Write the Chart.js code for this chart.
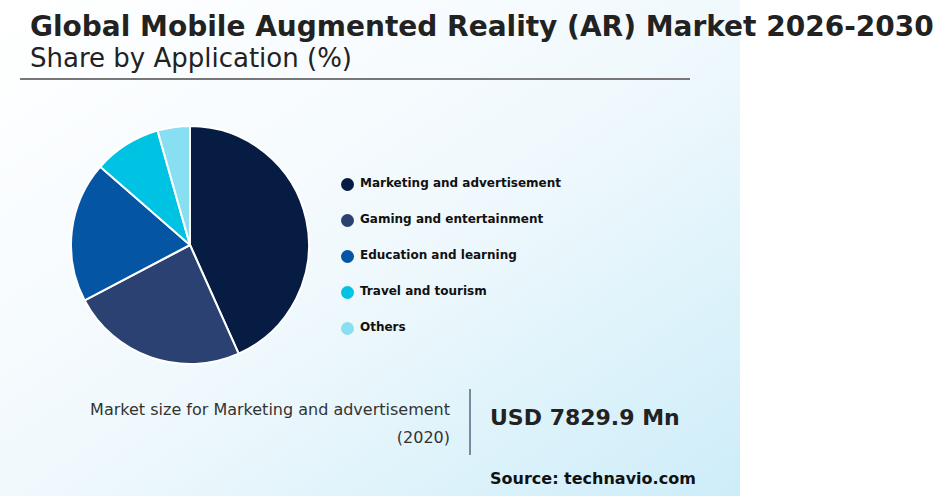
<!DOCTYPE html>
<html>
<head>
<meta charset="utf-8">
<script src="https://cdn.jsdelivr.net/npm/chart.js@4"></script>
<style>
  html, body { margin: 0; padding: 0; background: #fff; }
  body { width: 934px; height: 498px; position: relative; overflow: hidden; font-family: "DejaVu Sans", sans-serif; }
  #panel { position: absolute; left: 0; top: 0; width: 740px; height: 496px;
    background: linear-gradient(to bottom right, #ffffff 0%, #f6fbfe 35%, #eef8fc 55%, #cdedf9 100%); }
  .abs { position: absolute; white-space: nowrap; }
  #title { left: 30px; top: 13px; font-size: 28px; line-height: 28px; font-weight: bold; color: #222; }
  #subtitle { left: 30px; top: 45px; font-size: 26px; line-height: 26px; color: #222; }
  #rule { left: 20px; top: 78px; width: 670px; height: 2px; background: #777; }
  #pie-box { left: 70px; top: 125px; width: 240px; height: 240px; }
  #legend { left: 341px; top: 176px; }
  .item { height: 36px; display: flex; align-items: flex-start; font-size: 12px; font-weight: bold; color: #111; }
  .dot { width: 13px; height: 13px; border-radius: 50%; margin-right: 6px; margin-top: 2px; }
  #msize { right: 484px; top: 396px; font-size: 16px; color: #333; text-align: right; line-height: 28px; }
  #vline { left: 469px; top: 389px; width: 2px; height: 66px; background: #7a8a9c; }
  #usd { left: 490px; top: 405px; font-size: 22px; font-weight: bold; color: #222; }
  #source { left: 490px; top: 469px; font-size: 16px; font-weight: bold; color: #111; }
</style>
</head>
<body>
<div id="panel"></div>
<div class="abs" id="title">Global Mobile Augmented Reality (AR) Market 2026-2030</div>
<div class="abs" id="subtitle">Share by Application (%)</div>
<div class="abs" id="rule"></div>
<div class="abs" id="pie-box"><canvas id="pie"></canvas></div>
<div class="abs" id="legend"></div>
<div class="abs" id="msize">Market size for Marketing and advertisement<br>(2020)</div>
<div class="abs" id="vline"></div>
<div class="abs" id="usd">USD 7829.9 Mn</div>
<div class="abs" id="source">Source: technavio.com</div>
<script>
var categories = ['Marketing and advertisement', 'Gaming and entertainment', 'Education and learning', 'Travel and tourism', 'Others'];
var shares = [43.3, 24.0, 19.1, 9.2, 4.4];
var colors = ['#071c42', '#2b4172', '#0455a4', '#00c2e3', '#88dff2'];

// legend built from the same arrays
var legend = document.getElementById('legend');
categories.forEach(function (name, i) {
  var row = document.createElement('div');
  row.className = 'item';
  var dot = document.createElement('span');
  dot.className = 'dot';
  dot.style.background = colors[i];
  row.appendChild(dot);
  row.appendChild(document.createTextNode(name));
  legend.appendChild(row);
});

var ctx = document.getElementById('pie').getContext('2d');
new Chart(ctx, {
  type: 'pie',
  data: {
    labels: categories,
    datasets: [{
      data: shares,
      backgroundColor: colors,
      borderColor: '#ffffff',
      borderWidth: 2
    }]
  },
  options: {
    responsive: true,
    maintainAspectRatio: false,
    animation: false,
    layout: { padding: 0 },
    plugins: {
      legend: { display: false },
      tooltip: { enabled: false }
    }
  }
});
</script>
</body>
</html>
